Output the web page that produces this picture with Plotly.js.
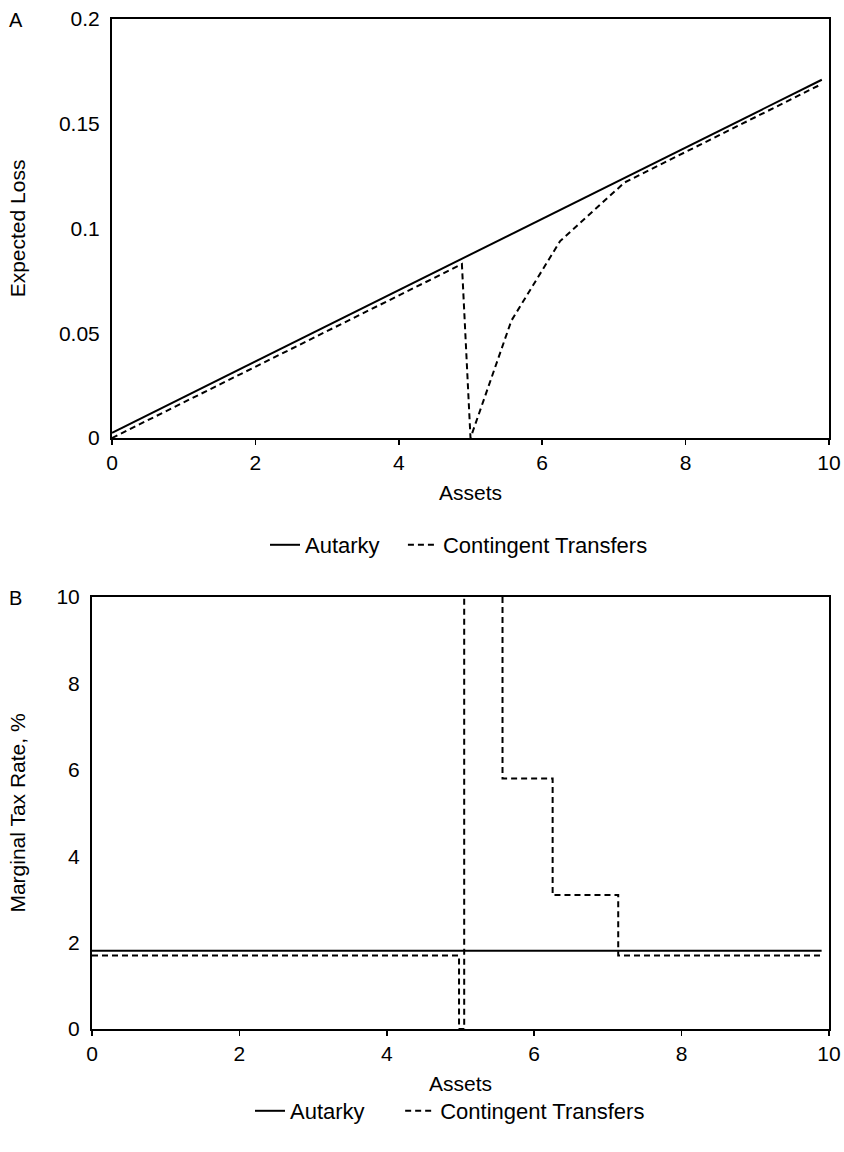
<!DOCTYPE html>
<html>
<head>
<meta charset="utf-8">
<script src="https://cdn.plot.ly/plotly-3.0.1.min.js"></script>
<style>html,body{margin:0;padding:0;background:#fff;}#chart{width:844px;height:1152px;}</style>
</head>
<body>
<div id="chart"></div>
<script>
// Panel A: Expected Loss vs Assets
const lossAutarkyX = [0, 9.9];
const lossAutarkyY = [0.0025, 0.171];
const lossContX = [0, 4.88, 5.0, 5.57, 6.25, 7.15, 9.9];
const lossContY = [0, 0.083, 0, 0.056, 0.094, 0.122, 0.169];

// Panel B: Marginal tax rate (%) vs Assets (step function)
const taxAutarkyX = [0, 9.9];
const taxAutarkyY = [1.81, 1.81];
const taxContX = [0, 4.98, 5.05, 5.57, 6.25, 7.14, 9.9];
const taxContY = [1.7, 0, 20, 5.8, 3.1, 1.7, 1.7];

const seriesNames = ["Autarky", "Contingent Transfers"];
const xTicks = [0, 2, 4, 6, 8, 10];
const yTicksA = [0, 0.05, 0.1, 0.15, 0.2];
const yTicksALabels = ["0", "0.05", "0.1", "0.15", "0.2"];
const yTicksB = [0, 2, 4, 6, 8, 10];

const FONT = "Liberation Sans, Arial, sans-serif";
const FS = 21;
const NB = "\u00A0";
const solid = {color: "#000", width: 2, dash: "solid"};
const dashed = {color: "#000", width: 2, dash: "6px,4px"};

const traces = [
  {x: lossAutarkyX, y: lossAutarkyY, mode: "lines", name: seriesNames[0] + NB.repeat(3), line: solid, xaxis: "x", yaxis: "y", legend: "legend"},
  {x: lossContX, y: lossContY, mode: "lines", name: seriesNames[1], line: dashed, xaxis: "x", yaxis: "y", legend: "legend"},
  {x: taxAutarkyX, y: taxAutarkyY, mode: "lines", name: seriesNames[0] + NB.repeat(5), line: solid, xaxis: "x2", yaxis: "y2", legend: "legend2"},
  {x: taxContX, y: taxContY, mode: "lines", name: seriesNames[1], line: Object.assign({shape: "hv"}, dashed), xaxis: "x2", yaxis: "y2", legend: "legend2"}
];

const axisCommon = {
  showline: true, linecolor: "#000", linewidth: 2, mirror: true,
  showgrid: false, zeroline: false,
  tickfont: {family: FONT, size: FS, color: "#000"}
};

const layout = {
  width: 844, height: 1152,
  margin: {l: 0, r: 0, t: 0, b: 0},
  paper_bgcolor: "#fff", plot_bgcolor: "#fff",
  font: {family: FONT, color: "#000"},
  xaxis: Object.assign({}, axisCommon, {
    domain: [112/844, 829/844], anchor: "y", range: [0, 10],
    tickvals: xTicks, ticks: "outside", ticklen: 5, tickwidth: 1.5, tickcolor: "#000",
    title: {text: "Assets", font: {family: FONT, size: FS, color: "#000"}, standoff: 12}
  }),
  yaxis: Object.assign({}, axisCommon, {
    domain: [1 - 438/1152, 1 - 19/1152], anchor: "x", range: [0, 0.2],
    tickvals: yTicksA, ticktext: yTicksALabels, ticks: "", ticklabelstandoff: 6,
    title: {text: "Expected Loss", font: {family: FONT, size: FS, color: "#000"}, standoff: 28}
  }),
  xaxis2: Object.assign({}, axisCommon, {
    domain: [92/844, 829/844], anchor: "y2", range: [0, 10],
    tickvals: xTicks, ticks: "outside", ticklen: 5, tickwidth: 1.5, tickcolor: "#000",
    title: {text: "Assets", font: {family: FONT, size: FS, color: "#000"}, standoff: 12}
  }),
  yaxis2: Object.assign({}, axisCommon, {
    domain: [1 - 1029/1152, 1 - 597/1152], anchor: "x2", range: [0, 10],
    tickvals: yTicksB, ticks: "", ticklabelstandoff: 6,
    title: {text: "Marginal Tax Rate, %", font: {family: FONT, size: FS, color: "#000"}, standoff: 25}
  }),
  legend: {
    orientation: "h", x: 265/844, xanchor: "left", y: 1 - 545/1152, yanchor: "middle",
    font: {family: FONT, size: 22, color: "#000"}, bgcolor: "rgba(0,0,0,0)", itemwidth: 30
  },
  legend2: {
    orientation: "h", x: 250/844, xanchor: "left", y: 1 - 1111/1152, yanchor: "middle",
    font: {family: FONT, size: 22, color: "#000"}, bgcolor: "rgba(0,0,0,0)", itemwidth: 30
  },
  annotations: [
    {text: "A", x: 7/844, y: 1 - 20/1152, xref: "paper", yref: "paper", xanchor: "left", yanchor: "middle", showarrow: false, font: {family: FONT, size: 20, color: "#000"}},
    {text: "B", x: 7/844, y: 1 - 598/1152, xref: "paper", yref: "paper", xanchor: "left", yanchor: "middle", showarrow: false, font: {family: FONT, size: 20, color: "#000"}}
  ],
  showlegend: true
};

Plotly.newPlot("chart", traces, layout, {staticPlot: true, displayModeBar: false});
</script>
</body>
</html>
